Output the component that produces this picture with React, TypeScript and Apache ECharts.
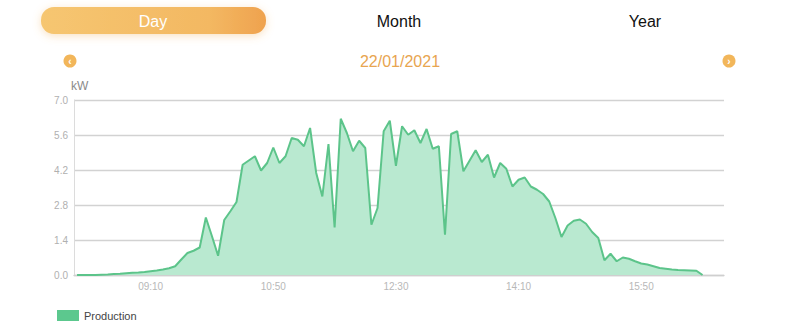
import React, { useEffect, useRef } from "react";
import * as echarts from "echarts";

const tabs = ["Day", "Month", "Year"];
const dateLabel = "22/01/2021";
const unitLabel = "kW";
const seriesName = "Production";

const times = [
  "08:10", "08:15", "08:20", "08:25", "08:30", "08:35", "08:40", "08:45", "08:50", "08:55",
  "09:00", "09:05", "09:10", "09:15", "09:20", "09:25", "09:30", "09:35", "09:40", "09:45",
  "09:50", "09:55", "10:00", "10:05", "10:10", "10:15", "10:20", "10:25", "10:30", "10:35",
  "10:40", "10:45", "10:50", "10:55", "11:00", "11:05", "11:10", "11:15", "11:20", "11:25",
  "11:30", "11:35", "11:40", "11:45", "11:50", "11:55", "12:00", "12:05", "12:10", "12:15",
  "12:20", "12:25", "12:30", "12:35", "12:40", "12:45", "12:50", "12:55", "13:00", "13:05",
  "13:10", "13:15", "13:20", "13:25", "13:30", "13:35", "13:40", "13:45", "13:50", "13:55",
  "14:00", "14:05", "14:10", "14:15", "14:20", "14:25", "14:30", "14:35", "14:40", "14:45",
  "14:50", "14:55", "15:00", "15:05", "15:10", "15:15", "15:20", "15:25", "15:30", "15:35",
  "15:40", "15:45", "15:50", "15:55", "16:00", "16:05", "16:10", "16:15", "16:20", "16:25",
  "16:30", "16:35", "16:40", "16:45", "16:50", "16:55",
];

const tickLabels = ["09:10", "10:50", "12:30", "14:10", "15:50"];

const production: (number | null)[] = [
  0, 0, 0, 0, 0.01, 0.02, 0.04, 0.05, 0.07, 0.09,
  0.1, 0.12, 0.15, 0.18, 0.22, 0.27, 0.35, 0.62, 0.88, 0.97,
  1.1, 2.3, 1.55, 0.77, 2.2, 2.55, 2.92, 4.41, 4.58, 4.75,
  4.18, 4.48, 5.1, 4.48, 4.75, 5.48, 5.41, 5.15, 5.88, 4.08,
  3.14, 5.24, 1.9, 6.25, 5.68, 4.95, 5.37, 5.08, 2.01, 2.68,
  5.75, 6.17, 4.37, 5.95, 5.61, 5.79, 5.28, 5.84, 5.05, 5.15,
  1.61, 5.64, 5.75, 4.15, 4.57, 4.99, 4.52, 4.81, 3.9, 4.48,
  4.25, 3.54, 3.81, 3.9, 3.54, 3.41, 3.24, 2.94, 2.28, 1.52,
  1.98, 2.17, 2.22, 2.05, 1.72, 1.48, 0.59, 0.85, 0.55, 0.7,
  0.65, 0.55, 0.46, 0.42, 0.35, 0.28, 0.25, 0.22, 0.2, 0.19,
  0.18, 0.17, 0, null, null, null,
];

const FONT = "'Liberation Sans', Helvetica, Arial, sans-serif";

export default function App() {
  const ref = useRef<HTMLDivElement>(null);
  useEffect(() => {
    if (!ref.current) return;
    const chart = echarts.init(ref.current, null, { renderer: "svg" });
    chart.setOption({
      animation: false,
      textStyle: { fontFamily: FONT },
      grid: { left: 74, right: 76, top: 100, bottom: 57 },
      legend: {
        left: 52,
        top: 305,
        itemWidth: 22,
        itemHeight: 11,
        icon: "rect",
        itemGap: 5,
        textStyle: { fontSize: 11, color: "#444", fontFamily: FONT },
        data: [seriesName],
      },
      xAxis: {
        type: "category",
        data: times,
        boundaryGap: true,
        axisTick: { show: false },
        axisLine: { show: true, lineStyle: { color: "#cfcfcf", width: 1.3 } },
        axisLabel: {
          interval: (_i: number, v: string) => tickLabels.includes(v),
          color: "#b8b8b8",
          fontSize: 10,
          margin: 6,
          fontFamily: FONT,
        },
      },
      yAxis: {
        type: "value",
        min: 0,
        max: 7,
        interval: 1.4,
        axisLine: { show: true, lineStyle: { color: "#dcdcdc", width: 1 } },
        axisTick: { show: false },
        axisLabel: {
          color: "#b0b0b0",
          fontSize: 10,
          margin: 6,
          fontFamily: FONT,
          formatter: (v: number) => v.toFixed(1),
        },
        splitLine: { show: true, lineStyle: { color: "#d2d2d2", width: 1.3 } },
      },
      graphic: [
        {
          type: "rect",
          shape: { x: 41, y: 7, width: 225, height: 27, r: 13 },
          style: {
            fill: new echarts.graphic.LinearGradient(0, 0, 1, 0, [
              { offset: 0, color: "#f6c671" },
              { offset: 0.75, color: "#f3b862" },
              { offset: 1, color: "#efa24e" },
            ]),
            shadowBlur: 8,
            shadowColor: "rgba(240,170,80,0.35)",
            shadowOffsetY: 2,
          },
        },
        {
          type: "text",
          x: 153,
          y: 21,
          style: { text: tabs[0], fill: "#ffffff", font: `16px ${FONT}`, align: "center", verticalAlign: "middle" },
        },
        {
          type: "text",
          x: 399,
          y: 21,
          style: { text: tabs[1], fill: "#111111", font: `16px ${FONT}`, align: "center", verticalAlign: "middle" },
        },
        {
          type: "text",
          x: 645,
          y: 21,
          style: { text: tabs[2], fill: "#111111", font: `16px ${FONT}`, align: "center", verticalAlign: "middle" },
        },
        {
          type: "text",
          x: 400,
          y: 61,
          style: { text: dateLabel, fill: "#e8a550", font: `16px ${FONT}`, align: "center", verticalAlign: "middle" },
        },
        { type: "circle", shape: { cx: 70, cy: 61, r: 6.5 }, style: { fill: "#f2b65a" } },
        {
          type: "text",
          x: 70,
          y: 61,
          style: { text: "‹", fill: "#ffffff", font: `bold 10px ${FONT}`, align: "center", verticalAlign: "middle" },
        },
        { type: "circle", shape: { cx: 729, cy: 61, r: 6.5 }, style: { fill: "#f2b65a" } },
        {
          type: "text",
          x: 729,
          y: 61,
          style: { text: "›", fill: "#ffffff", font: `bold 10px ${FONT}`, align: "center", verticalAlign: "middle" },
        },
        {
          type: "text",
          x: 71,
          y: 86,
          style: { text: unitLabel, fill: "#8a8a8a", font: `12px ${FONT}`, align: "left", verticalAlign: "middle" },
        },
      ],
      series: [
        {
          name: seriesName,
          type: "line",
          data: production,
          showSymbol: false,
          symbol: "none",
          smooth: false,
          itemStyle: { color: "#5cc88e" },
          lineStyle: { color: "#5cc48a", width: 2 },
          areaStyle: { color: "#b9e9d0", opacity: 1 },
        },
      ],
    });
    return () => chart.dispose();
  }, []);
  return (
    <div
      ref={ref}
      style={{ position: "absolute", left: 0, top: 0, width: 800, height: 332, background: "#fff" }}
    />
  );
}
